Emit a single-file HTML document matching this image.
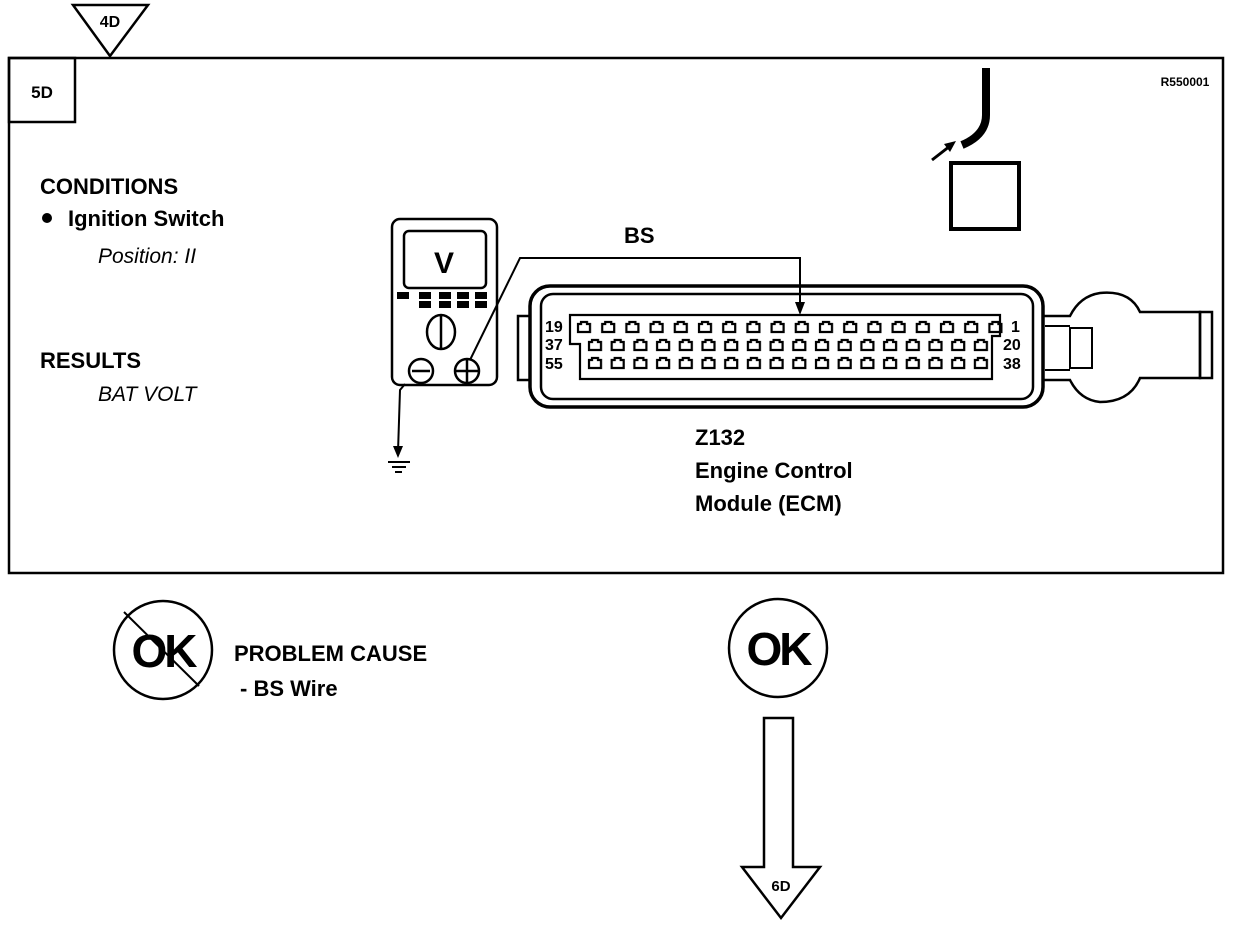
<!DOCTYPE html>
<html><head><meta charset="utf-8"><style>
html,body{margin:0;padding:0;background:#fff;width:1248px;height:928px;overflow:hidden}
svg{display:block}
text{font-family:"Liberation Sans",Arial,sans-serif;fill:#000}
.b{font-weight:bold}
.i{font-style:italic}
</style></head><body>
<svg width="1248" height="928" viewBox="0 0 1248 928" xmlns="http://www.w3.org/2000/svg">
<defs>
<pattern id="pin1" x="576" y="320" width="24.2" height="14" patternUnits="userSpaceOnUse">
<path d="M2 4 h3 v-2 h6 v2 h3 v8 h-12 z" fill="none" stroke="#000" stroke-width="2.2"/>
</pattern>
<pattern id="pin2" x="587" y="338" width="22.7" height="14" patternUnits="userSpaceOnUse">
<path d="M2 4 h3 v-2 h6 v2 h3 v8 h-12 z" fill="none" stroke="#000" stroke-width="2.2"/>
</pattern>
<pattern id="pin3" x="587" y="356" width="22.7" height="14" patternUnits="userSpaceOnUse">
<path d="M2 4 h3 v-2 h6 v2 h3 v8 h-12 z" fill="none" stroke="#000" stroke-width="2.2"/>
</pattern>
</defs>
<g fill="none" stroke="#000" stroke-width="2.5">
<rect x="9" y="58" width="1214" height="515"/>
<rect x="9" y="58" width="66" height="64"/>
<polygon points="73,5 148,5 110,56" fill="#fff"/>
</g>
<text x="110" y="27" class="b" font-size="16" text-anchor="middle">4D</text>
<text x="42" y="98" class="b" font-size="17" text-anchor="middle">5D</text>
<text x="1185" y="86" class="b" font-size="12" text-anchor="middle">R550001</text>

<text x="40" y="194" class="b" font-size="22">CONDITIONS</text>
<circle cx="47" cy="218" r="5"/>
<text x="68" y="226" class="b" font-size="22">Ignition Switch</text>
<text x="98" y="263" class="i" font-size="21">Position: II</text>
<text x="40" y="368" class="b" font-size="22">RESULTS</text>
<text x="98" y="401" class="i" font-size="21">BAT VOLT</text>

<path d="M986 68 V115 Q986 135 962 145" fill="none" stroke="#000" stroke-width="8"/>
<line x1="932" y1="160" x2="950" y2="146" stroke="#000" stroke-width="3"/>
<polygon points="956,141 944,144 950,152" fill="#000"/>
<rect x="951" y="163" width="68" height="66" fill="none" stroke="#000" stroke-width="4"/>

<g fill="none" stroke="#000" stroke-width="2.5">
<rect x="392" y="219" width="105" height="166" rx="8"/>
<rect x="404" y="231" width="82" height="57" rx="5"/>
<ellipse cx="441" cy="332" rx="14" ry="17"/>
<line x1="441" y1="315" x2="441" y2="349"/>
<circle cx="421" cy="371" r="12"/>
<line x1="412" y1="371" x2="430" y2="371"/>
<circle cx="467" cy="371" r="12"/>
<line x1="455" y1="371" x2="479" y2="371"/>
<line x1="467" y1="359" x2="467" y2="383"/>
</g>
<text x="444" y="273" class="b" font-size="30" text-anchor="middle">V</text>
<g fill="#000">
<rect x="397" y="292" width="12" height="7"/><rect x="419" y="292" width="12" height="7"/><rect x="439" y="292" width="12" height="7"/><rect x="457" y="292" width="12" height="7"/><rect x="475" y="292" width="12" height="7"/>
<rect x="419" y="301" width="12" height="7"/><rect x="439" y="301" width="12" height="7"/><rect x="457" y="301" width="12" height="7"/><rect x="475" y="301" width="12" height="7"/>
</g>
<polyline points="470,360 520,258 800,258 800,305" fill="none" stroke="#000" stroke-width="2"/>
<polygon points="795,302 805,302 800,315" fill="#000"/>
<text x="624" y="243" class="b" font-size="22">BS</text>
<polyline points="405,384 400,390 398,452" fill="none" stroke="#000" stroke-width="2"/>
<polygon points="393,446 403,446 398,458" fill="#000"/>
<g stroke="#000" stroke-width="2">
<line x1="388" y1="462" x2="410" y2="462"/><line x1="392" y1="467" x2="406" y2="467"/><line x1="395" y1="472" x2="402" y2="472"/>
</g>

<g fill="none" stroke="#000">
<rect x="530" y="286" width="513" height="121" rx="20" stroke-width="3.5"/>
<rect x="541" y="294" width="492" height="105" rx="12" stroke-width="2.5"/>
<rect x="518" y="316" width="12" height="64" stroke-width="2.5"/>
<path d="M570 315 H1000 V336 H992 V379 H580 V344 H570 Z" stroke-width="2.2"/>
<path d="M1043 316 H1070 Q1080 296 1100 293 Q1130 290 1140 312 H1200 V378 H1140 Q1130 402 1100 402 Q1080 400 1070 380 H1043" stroke-width="2.5"/>
<rect x="1200" y="312" width="12" height="66" stroke-width="2.5"/>
<rect x="1070" y="328" width="22" height="40" stroke-width="2"/>
<line x1="1045" y1="326" x2="1070" y2="326" stroke-width="2"/>
<line x1="1045" y1="370" x2="1070" y2="370" stroke-width="2"/>
</g>
<rect x="576" y="320" width="436" height="14" fill="url(#pin1)"/>
<rect x="587" y="338" width="409" height="14" fill="url(#pin2)"/>
<rect x="587" y="356" width="409" height="14" fill="url(#pin3)"/>
<text x="545" y="332" class="b" font-size="16">19</text>
<text x="545" y="350" class="b" font-size="16">37</text>
<text x="545" y="369" class="b" font-size="16">55</text>
<text x="1011" y="332" class="b" font-size="16">1</text>
<text x="1003" y="350" class="b" font-size="16">20</text>
<text x="1003" y="369" class="b" font-size="16">38</text>

<text x="695" y="445" class="b" font-size="22">Z132</text>
<text x="695" y="478" class="b" font-size="22">Engine Control</text>
<text x="695" y="511" class="b" font-size="22">Module (ECM)</text>

<circle cx="163" cy="650" r="49" fill="none" stroke="#000" stroke-width="2.5"/>
<line x1="124" y1="612" x2="199" y2="686" stroke="#000" stroke-width="2"/>
<text x="163" y="667" class="b" font-size="46" text-anchor="middle" letter-spacing="-3">OK</text>
<text x="234" y="661" class="b" font-size="22">PROBLEM CAUSE</text>
<text x="240" y="696" class="b" font-size="22">-  BS  Wire</text>
<circle cx="778" cy="648" r="49" fill="none" stroke="#000" stroke-width="2.5"/>
<text x="778" y="665" class="b" font-size="46" text-anchor="middle" letter-spacing="-3">OK</text>
<polygon points="764,718 793,718 793,867 820,867 781,918 742,867 764,867" fill="none" stroke="#000" stroke-width="2.5"/>
<text x="781" y="891" class="b" font-size="15" text-anchor="middle">6D</text>
</svg>
</body></html>
